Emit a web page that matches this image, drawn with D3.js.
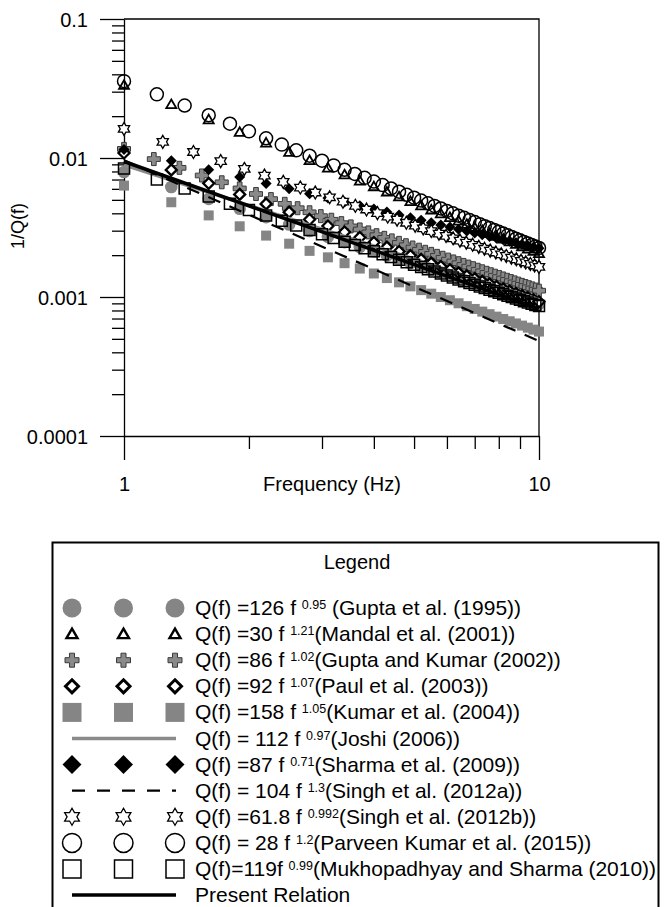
<!DOCTYPE html>
<html>
<head>
<meta charset="utf-8">
<script src="https://cdn.jsdelivr.net/npm/d3@7"></script>
<style>
  body { margin: 0; background: #fff; }
  svg { display: block; }
  text { font-family: Arial, "Liberation Sans", sans-serif; fill: #000; }
</style>
</head>
<body>
<svg width="668" height="907"></svg>
<script>
// Relations printed in the legend: Q(f) = q0 * f^n, the chart plots 1/Q(f).
// "Present Relation" is not printed, q0/n read off the black line.
var q0Values = [126, 30, 86, 92, 158, 112, 87, 104, 61.8, 28, 119, 106];
var nValues  = [0.95, 1.21, 1.02, 1.07, 1.05, 0.97, 0.71, 1.3, 0.992, 1.2, 0.99, 1.06];

var labelHead = ["Q(f) =126 f ", "Q(f) =30 f ", "Q(f) =86 f ", "Q(f) =92 f ", "Q(f) =158 f ",
                 "Q(f) = 112 f ", "Q(f) =87 f ", "Q(f) = 104 f ", "Q(f) =61.8 f ", "Q(f) = 28 f ",
                 "Q(f)=119f ", "Present Relation"];
var labelSup  = ["0.95", "1.21", "1.02", "1.07", "1.05", "0.97", "0.71", "1.3", "0.992", "1.2", "0.99", ""];
var labelTail = [" (Gupta et al. (1995))", "(Mandal et al. (2001))", "(Gupta and Kumar (2002))",
                 "(Paul et al. (2003))", "(Kumar et al. (2004))", "(Joshi (2006))",
                 "(Sharma et al. (2009))", "(Singh et al. (2012a))", "(Singh et al. (2012b))",
                 "(Parveen Kumar et al. (2015))", "(Mukhopadhyay and Sharma (2010))", ""];

var markType = ["gcircle", "triangle", "cross", "odiamond", "gsquare", "gline",
                "fdiamond", "dash", "star", "ocircle", "osquare", "bline"];

var freqA = [1, 1.3, 1.6, 1.9, 2.2, 2.5, 2.8, 3.1, 3.4, 3.7, 4, 4.3, 4.6, 4.9, 5.2, 5.5,
             5.8, 6.1, 6.4, 6.7, 7, 7.3, 7.6, 7.9, 8.2, 8.5, 8.8, 9.1, 9.4, 9.7, 10];
var freqB = [1, 1.2, 1.4, 1.6, 1.8, 2, 2.2, 2.4, 2.6, 2.8, 3, 3.2, 3.4, 3.6, 3.8, 4, 4.2,
             4.4, 4.6, 4.8, 5, 5.2, 5.4, 5.6, 5.8, 6, 6.2, 6.4, 6.6, 6.8, 7, 7.2, 7.4, 7.6,
             7.8, 8, 8.2, 8.4, 8.6, 8.8, 9, 9.2, 9.4, 9.6, 9.8, 10];
var freqC = [1, 1.18, 1.36, 1.54, 1.72, 1.9, 2.08, 2.26, 2.44, 2.62, 2.8, 2.98, 3.16, 3.34,
             3.52, 3.7, 3.88, 4.06, 4.24, 4.42, 4.6, 4.78, 4.96, 5.14, 5.32, 5.5, 5.68, 5.86,
             6.04, 6.22, 6.4, 6.58, 6.76, 6.94, 7.12, 7.3, 7.48, 7.66, 7.84, 8.02, 8.2, 8.38,
             8.56, 8.74, 8.92, 9.1, 9.28, 9.46, 9.64, 9.82, 10];
var freqD = [1, 1.24, 1.47, 1.71, 1.95, 2.18, 2.42, 2.66, 2.89, 3.13, 3.37, 3.61, 3.84, 4.08,
             4.32, 4.55, 4.79, 5.03, 5.26, 5.5, 5.74, 5.97, 6.21, 6.45, 6.68, 6.92, 7.16, 7.39,
             7.63, 7.87, 8.11, 8.34, 8.58, 8.82, 9.05, 9.29, 9.53, 9.76, 10];
var freqLine = [1, 10];
var seriesFreq = [freqA, freqA, freqC, freqA, freqA, freqLine, freqA, freqLine, freqD, freqB, freqB, freqLine];

var yTickValues = [0.0001, 0.001, 0.01, 0.1];
var yTickLabels = ["0.0001", "0.001", "0.01", "0.1"];
var xTickValues = [1, 10];
var xTickLabels = ["1", "10"];

// Marker half sizes (plot, legend)
var plotSize   = {gcircle: 6.3, triangle: 5, cross: 6.5, odiamond: 5.5, gsquare: 5, fdiamond: 5.5, star: 6.5, ocircle: 6.5, osquare: 5.5};
var legendSize = {gcircle: 9.5, triangle: 5.5, cross: 7, odiamond: 6.5, gsquare: 9.5, fdiamond: 9.5, star: 8.5, ocircle: 9.5, osquare: 9};
var grey = "#858585";

function markerPath(type, s) {
	if (type == "gcircle" || type == "ocircle") {
		return "M" + s + ",0A" + s + "," + s + " 0 1,1 " + (-s) + ",0A" + s + "," + s + " 0 1,1 " + s + ",0Z";
	}
	if (type == "triangle") {
		return "M0," + (-s) + "L" + s + "," + (0.73 * s) + "L" + (-s) + "," + (0.73 * s) + "Z";
	}
	if (type == "cross") {
		var a = s * 0.36;
		return "M" + (-a) + "," + (-s) + "H" + a + "V" + (-a) + "H" + s + "V" + a + "H" + a + "V" + s +
		       "H" + (-a) + "V" + a + "H" + (-s) + "V" + (-a) + "H" + (-a) + "Z";
	}
	if (type == "odiamond" || type == "fdiamond") {
		return "M0," + (-s) + "L" + s + ",0L0," + s + "L" + (-s) + ",0Z";
	}
	if (type == "gsquare" || type == "osquare") {
		return "M" + (-s) + "," + (-s) + "H" + s + "V" + s + "H" + (-s) + "Z";
	}
	if (type == "star") {
		// six pointed star (two triangles)
		var pts = [];
		for (var k = 0; k < 12; k++) {
			var r = (k % 2 == 0) ? s : s * 0.577;
			var ang = (-90 + k * 30) * Math.PI / 180;
			pts.push([r * Math.cos(ang), r * Math.sin(ang)]);
		}
		return "M" + pts.join("L") + "Z";
	}
	return "";
}

function styleMarker(sel, type, legend) {
	if (type == "gcircle" || type == "gsquare") {
		sel.attr("fill", grey).attr("stroke", "none");
	} else if (type == "fdiamond") {
		sel.attr("fill", "#000").attr("stroke", "none");
	} else if (type == "cross") {
		sel.attr("fill", "#8a8a8a").attr("stroke", "#3a3a3a").attr("stroke-width", 1);
	} else if (type == "odiamond") {
		sel.attr("fill", "#fff").attr("stroke", "#000").attr("stroke-width", legend ? 3 : 2.3);
	} else if (type == "triangle") {
		sel.attr("fill", "none").attr("stroke", "#000").attr("stroke-width", legend ? 2.4 : 1.8);
	} else if (type == "star") {
		sel.attr("fill", "#fff").attr("stroke", "#000").attr("stroke-width", 1.3);
	} else {
		sel.attr("fill", "none").attr("stroke", "#000").attr("stroke-width", 1.5);
	}
}

function styleLine(sel, type) {
	if (type == "gline") {
		sel.attr("stroke", "#8a8a8a").attr("stroke-width", 3.5);
	} else if (type == "dash") {
		sel.attr("stroke", "#000").attr("stroke-width", 2.2).style("stroke-dasharray", "13,10");
	} else {
		sel.attr("stroke", "#000").attr("stroke-width", 3.5);
	}
	sel.attr("fill", "none");
}

var svg = d3.select("svg");

var x = d3.scaleLog().domain([1, 10]).range([124, 539]);
var y = d3.scaleLog().domain([0.0001, 0.1]).range([436, 19]);

// Minor ticks from the log scale, majors taken out
var yMinor = y.ticks().filter(function(d) { return yTickValues.indexOf(d) < 0; });
var xMinor = x.ticks().filter(function(d) { return xTickValues.indexOf(d) < 0; });

// Frame (top + right)
svg.append("path")
   .attr("d", "M" + x(1) + "," + y(0.1) + "H" + x(10) + "V" + y(0.0001))
   .attr("fill", "none").attr("stroke", "#000").attr("stroke-width", 1.3);

var yAxis = d3.axisLeft(y).tickValues(yTickValues).tickSize(24).tickSizeOuter(0).tickPadding(12)
              .tickFormat(function(d, i) { return yTickLabels[i]; });
var yAxisMinor = d3.axisLeft(y).tickValues(yMinor).tickSize(12).tickFormat("");
var xAxis = d3.axisBottom(x).tickValues(xTickValues).tickSize(24).tickSizeOuter(0).tickPadding(17)
              .tickFormat(function(d, i) { return xTickLabels[i]; });
var xAxisMinor = d3.axisBottom(x).tickValues(xMinor).tickSize(13).tickFormat("");

var gy = svg.append("g").attr("transform", "translate(" + x(1) + ",0)").call(yAxis);
svg.append("g").attr("transform", "translate(" + x(1) + ",0)").call(yAxisMinor).select(".domain").remove();
var gx = svg.append("g").attr("transform", "translate(0," + y(0.0001) + ")").call(xAxis);
svg.append("g").attr("transform", "translate(0," + y(0.0001) + ")").call(xAxisMinor).select(".domain").remove();

svg.selectAll(".tick line, .domain").attr("stroke", "#000").attr("stroke-width", 1.3);
gy.selectAll("text").style("font-size", "20px").attr("dy", "0.35em");
gx.selectAll("text").style("font-size", "20px");

svg.append("text")
   .attr("x", 332).attr("y", 491)
   .style("text-anchor", "middle").style("font-size", "20px")
   .text("Frequency (Hz)");

svg.append("text")
   .attr("transform", "translate(24,226) rotate(-90)")
   .style("text-anchor", "middle").style("font-size", "18px")
   .text("1/Q(f)");

// Series
var line = d3.line().x(function(d) { return x(d.f); }).y(function(d) { return y(d.v); });

for (var i = 0; i < markType.length; i++) {
	var q0 = q0Values[i], n = nValues[i];
	var pts = seriesFreq[i].map(function(f) { return {f: f, v: 1 / (q0 * Math.pow(f, n))}; });
	var type = markType[i];
	if (type == "gline" || type == "dash" || type == "bline") {
		svg.append("path").datum(pts).attr("d", line).call(styleLine, type);
	} else {
		svg.append("g").selectAll("path")
		   .data(pts)
		   .enter()
		   .append("path")
		   .attr("d", markerPath(type, plotSize[type]))
		   .attr("transform", function(d) { return "translate(" + x(d.f) + "," + y(d.v) + ")"; })
		   .call(styleMarker, type, false);
	}
}

// Legend
svg.append("rect")
   .attr("x", 52.5).attr("y", 542.5).attr("width", 606).attr("height", 420)
   .attr("fill", "none").attr("stroke", "#000").attr("stroke-width", 2);

svg.append("text")
   .attr("x", 357).attr("y", 569)
   .style("text-anchor", "middle").style("font-size", "20px")
   .text("Legend");

var legendX = [72, 123.5, 175];
for (var j = 0; j < markType.length; j++) {
	var ly = 608 + j * 26.1;
	var t = markType[j];
	if (t == "gline" || t == "dash" || t == "bline") {
		var lsel = svg.append("line").attr("x1", 72).attr("x2", 176).attr("y1", ly).attr("y2", ly).call(styleLine, t);
		if (t == "dash") lsel.style("stroke-dasharray", "13,12");
	} else {
		for (var k = 0; k < legendX.length; k++) {
			svg.append("path")
			   .attr("d", markerPath(t, legendSize[t]))
			   .attr("transform", "translate(" + legendX[k] + "," + ly + ")")
			   .call(styleMarker, t, true);
		}
	}
	var txt = svg.append("text")
	   .attr("x", 195).attr("y", ly + 7)
	   .attr("xml:space", "preserve")
	   .style("white-space", "pre")
	   .style("font-size", "21px");
	txt.append("tspan").text(labelHead[j]);
	if (labelSup[j] != "") {
		txt.append("tspan").attr("dy", -6).style("font-size", "12.5px").text(labelSup[j]);
		txt.append("tspan").attr("dy", 6).text(labelTail[j]);
	}
}
</script>
</body>
</html>
